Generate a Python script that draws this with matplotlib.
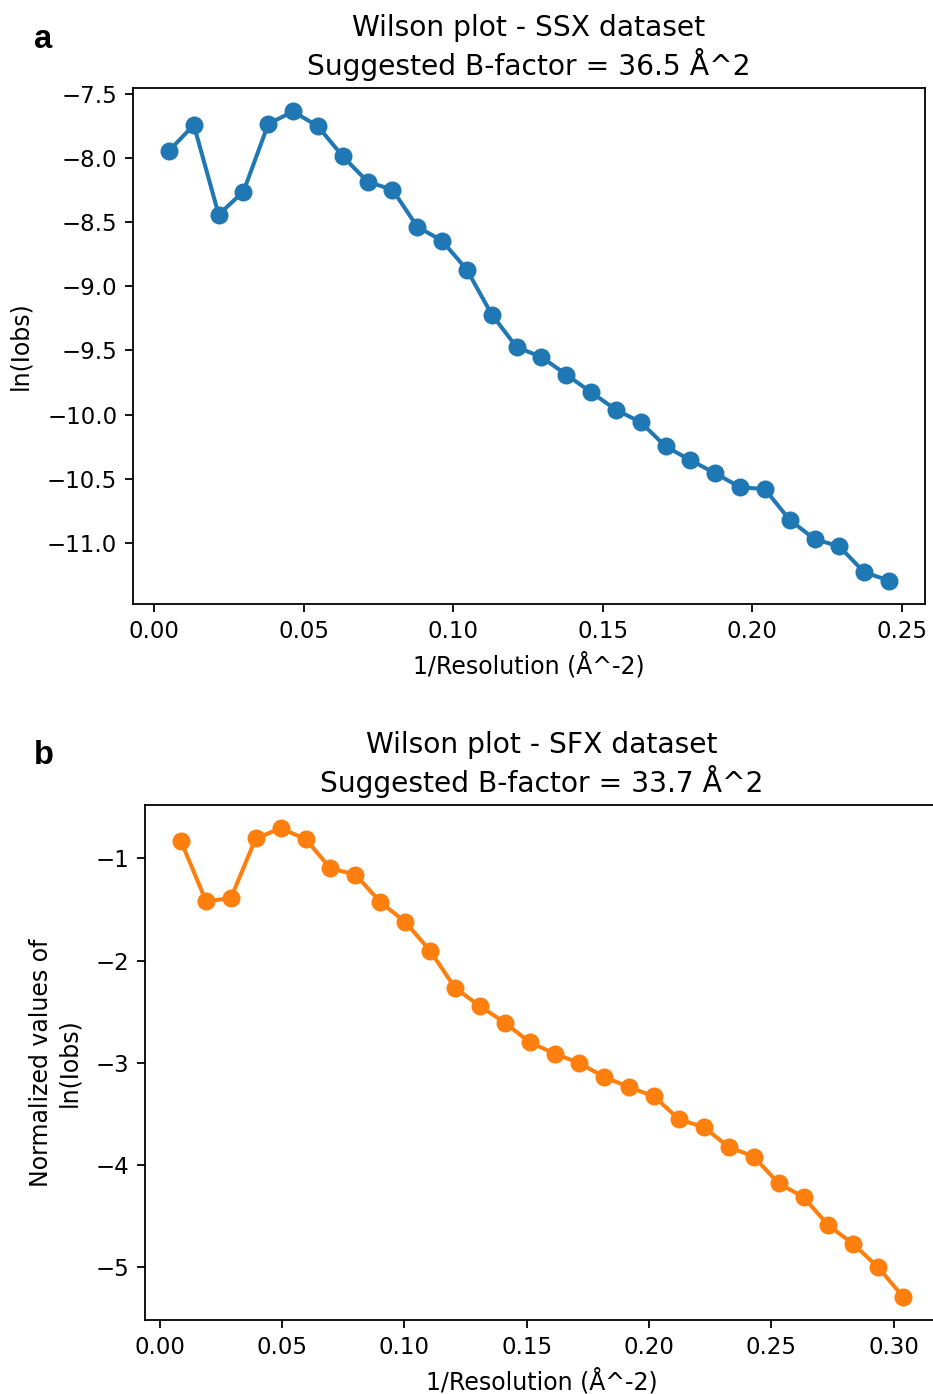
import matplotlib
matplotlib.use("Agg")
import matplotlib.pyplot as plt

# Panel a: SSX dataset
ssx_x = [0.0050, 0.0133, 0.0216, 0.0299, 0.0382, 0.0465, 0.0548, 0.0631, 0.0714, 0.0797,
         0.0880, 0.0963, 0.1046, 0.1129, 0.1212, 0.1295, 0.1378, 0.1461, 0.1544, 0.1627,
         0.1710, 0.1793, 0.1876, 0.1959, 0.2042, 0.2125, 0.2208, 0.2291, 0.2374, 0.2457]
ssx_y = [-7.944, -7.742, -8.441, -8.261, -7.734, -7.637, -7.753, -7.987, -8.185, -8.247,
         -8.535, -8.645, -8.871, -9.220, -9.473, -9.551, -9.688, -9.825, -9.962, -10.059,
         -10.247, -10.355, -10.457, -10.565, -10.581, -10.820, -10.970, -11.027, -11.228, -11.293]

# Panel b: SFX dataset
sfx_x = [0.0088, 0.0190, 0.0291, 0.0393, 0.0495, 0.0597, 0.0698, 0.0800, 0.0902, 0.1003,
         0.1105, 0.1207, 0.1308, 0.1410, 0.1512, 0.1614, 0.1715, 0.1817, 0.1919, 0.2020,
         0.2122, 0.2224, 0.2325, 0.2427, 0.2529, 0.2631, 0.2732, 0.2834, 0.2936, 0.3037]
sfx_y = [-0.835, -1.418, -1.391, -0.805, -0.707, -0.811, -1.098, -1.158, -1.428, -1.620,
         -1.902, -2.266, -2.444, -2.606, -2.798, -2.909, -3.003, -3.138, -3.239, -3.327,
         -3.552, -3.630, -3.822, -3.916, -4.178, -4.313, -4.589, -4.771, -5.000, -5.286]

ssx_title = "Wilson plot - SSX dataset\nSuggested B-factor = 36.5 Å^2"
sfx_title = "Wilson plot - SFX dataset\nSuggested B-factor = 33.7 Å^2"
xlabel = "1/Resolution (Å^-2)"

W, H = 933, 1394
dpi = 162
fig = plt.figure(figsize=(W / dpi, H / dpi), dpi=dpi)

ax1 = fig.add_axes([133 / W, 1 - 604 / H, 792 / W, 516 / H])
ax1.plot(ssx_x, ssx_y, "-o", color="#1f77b4", lw=1.8, ms=7)
ax1.set_title(ssx_title, fontsize=12.5)
ax1.set_xlabel(xlabel, fontsize=10.5)
ax1.set_ylabel("ln(Iobs)", fontsize=10.5, labelpad=6.5)
ax1.tick_params(labelsize=10.2)

ax2 = fig.add_axes([145 / W, 1 - 1320 / H, 794 / W, 515 / H])
ax2.plot(sfx_x, sfx_y, "-o", color="#ff7f0e", lw=1.8, ms=7)
ax2.set_title(sfx_title, fontsize=12.5)
ax2.set_xlabel(xlabel, fontsize=10.5)
ax2.set_ylabel("Normalized values of\nln(Iobs)", fontsize=10.5, labelpad=6.5)
ax2.tick_params(labelsize=10.2)

fig.text(34 / W, 1 - 40 / H, "a", fontsize=14.5, fontweight="bold",
         family="Liberation Sans", ha="left", va="center")
fig.text(34 / W, 1 - 755 / H, "b", fontsize=14.5, fontweight="bold",
         family="Liberation Sans", ha="left", va="center")

fig.savefig("out.png", dpi=dpi)
